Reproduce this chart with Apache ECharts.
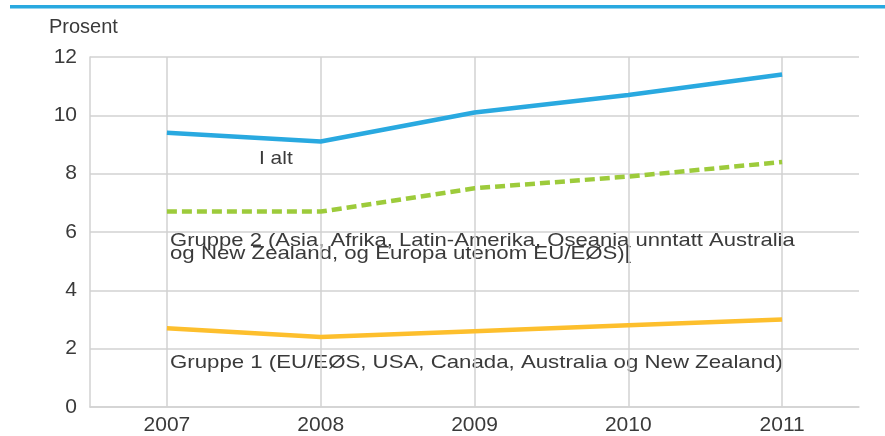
<!DOCTYPE html>
<html>
<head>
<meta charset="utf-8">
<script src="https://cdn.jsdelivr.net/npm/echarts@6/dist/echarts.min.js"></script>
<style>
  html, body { margin: 0; padding: 0; background: #fff; }
  #chart { width: 885px; height: 436px; }
</style>
</head>
<body>
<div id="chart"></div>
<script>
// år og verdier (prosent)
const years = ['2007', '2008', '2009', '2010', '2011'];
const iAlt = [9.4, 9.1, 10.1, 10.7, 11.4];
const gruppe2 = [6.7, 6.7, 7.5, 7.9, 8.4];
const gruppe1 = [2.7, 2.4, 2.6, 2.8, 3.0];

const textColor = '#3a3a3a';
const gridColor = '#d2d2d2';
const font = 'Liberation Sans, Arial, sans-serif';

const chart = echarts.init(document.getElementById('chart'));

const option = {
  animation: false,
  grid: { left: 90, right: 26, top: 57, bottom: 28, containLabel: false },
  xAxis: {
    type: 'category',
    data: years,
    boundaryGap: true,
    axisLine: { show: true, lineStyle: { color: gridColor, width: 1.5 } },
    axisTick: { show: false },
    axisLabel: { color: textColor, fontSize: 21, fontFamily: font, margin: 8 },
    splitLine: { show: true, alignWithLabel: true, lineStyle: { color: gridColor, width: 1.5 } }
  },
  yAxis: {
    type: 'value',
    min: 0,
    max: 12,
    interval: 2,
    axisLine: { show: true, lineStyle: { color: gridColor, width: 1.5 } },
    axisTick: { show: false },
    axisLabel: { color: textColor, fontSize: 21, fontFamily: font, margin: 13 },
    splitLine: { show: true, lineStyle: { color: gridColor, width: 1.5 } }
  },
  series: [
    {
      name: 'I alt',
      type: 'line',
      data: iAlt,
      showSymbol: false,
      lineStyle: { color: '#29a9e0', width: 4.5 }
    },
    {
      name: 'Gruppe 2',
      type: 'line',
      data: gruppe2,
      showSymbol: false,
      lineStyle: { color: '#9dcb3b', width: 4.5, type: [10, 5] }
    },
    {
      name: 'Gruppe 1',
      type: 'line',
      data: gruppe1,
      showSymbol: false,
      lineStyle: { color: '#fdbf2d', width: 4.5 }
    }
  ],
  graphic: [
    // blå strek øverst
    { type: 'rect', shape: { x: 10, y: 5, width: 875, height: 3.5 }, style: { fill: '#29a9e0' } },
    { type: 'text', x: 49, y: 27, style: { text: 'Prosent', fontSize: 20, fontFamily: font, fill: textColor, verticalAlign: 'middle' } },
    { type: 'text', x: 259, y: 159, scaleX: 1.1, style: { text: 'I alt', fontSize: 19, fontFamily: font, fill: textColor, verticalAlign: 'middle' } },
    { type: 'text', x: 170, y: 241, scaleX: 1.16, style: { text: 'Gruppe 2 (Asia, Afrika, Latin-Amerika, Oseania unntatt Australia', fontSize: 19, fontFamily: font, fill: textColor, verticalAlign: 'middle' } },
    { type: 'text', x: 170, y: 254, scaleX: 1.17, style: { text: 'og New Zealand, og Europa utenom EU/EØS)[', fontSize: 19, fontFamily: font, fill: textColor, verticalAlign: 'middle' } },
    { type: 'text', x: 170, y: 363, scaleX: 1.17, style: { text: 'Gruppe 1 (EU/EØS, USA, Canada, Australia og New Zealand)', fontSize: 19, fontFamily: font, fill: textColor, verticalAlign: 'middle' } }
  ]
};

chart.setOption(option);
</script>
</body>
</html>
